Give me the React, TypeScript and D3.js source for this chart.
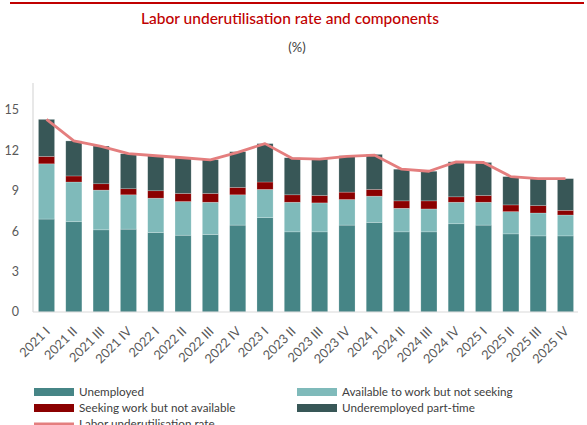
import React from "react";
import * as d3 from "d3";

const categories = ["2021 I","2021 II","2021 III","2021 IV","2022 I","2022 II","2022 III","2022 IV","2023 I","2023 II","2023 III","2023 IV","2024 I","2024 II","2024 III","2024 IV","2025 I","2025 II","2025 III","2025 IV"];
const unemployed = [6.9,6.7,6.1,6.15,5.9,5.7,5.75,6.45,7.0,5.95,5.95,6.45,6.65,5.95,5.95,6.55,6.45,5.8,5.65,5.65];
const availableNotSeeking = [4.1,2.95,2.95,2.55,2.55,2.5,2.4,2.25,2.1,2.2,2.15,1.9,1.95,1.75,1.7,1.6,1.7,1.65,1.7,1.55];
const seekingNotAvailable = [0.55,0.45,0.47,0.45,0.55,0.6,0.65,0.55,0.55,0.55,0.55,0.55,0.5,0.55,0.6,0.4,0.5,0.5,0.55,0.35];
const underemployed = [2.75,2.6,2.8,2.6,2.6,2.7,2.5,2.65,2.85,2.75,2.7,2.7,2.6,2.35,2.2,2.6,2.45,2.1,2.0,2.35];
const underutilisationRate = [14.3,12.7,12.3,11.75,11.6,11.45,11.3,11.85,12.5,11.4,11.35,11.55,11.65,10.6,10.45,11.15,11.1,10.05,9.9,9.9];
const yTicks = [0,3,6,9,12,15];

const seriesKeys = ["unemployed","available","seeking","underemployed"];
const seriesLabels = ["Unemployed","Available to work but not seeking","Seeking work but not available","Underemployed part-time"];
const colors = ["#468586","#7FBABA","#8B0000","#385757"];
const lineColor = "#E47E7E";

export default function App() {
  const W = 587, H = 425;
  const left = 33, right = 579, top = 83, bottom = 312;
  const rows = categories.map((c, i) => ({
    cat: c,
    unemployed: unemployed[i],
    available: availableNotSeeking[i],
    seeking: seekingNotAvailable[i],
    underemployed: underemployed[i],
  }));
  const stack = d3.stack<any>().keys(seriesKeys)(rows);
  const x = d3.scaleBand().domain(categories).range([left, right]).paddingInner(0.41).paddingOuter(0.2);
  const y = d3.scaleLinear().domain([0, 17]).range([bottom, top]);
  const line = d3.line<number>()
    .x((_, i) => (x(categories[i]) as number) + x.bandwidth() / 2)
    .y(d => y(d));
  const font = "Lato, 'Open Sans', sans-serif";
  const legendItems = [
    { label: seriesLabels[0], color: colors[0], x: 34, y: 392, line: false },
    { label: seriesLabels[1], color: colors[1], x: 297, y: 392, line: false },
    { label: seriesLabels[2], color: colors[2], x: 34, y: 408, line: false },
    { label: seriesLabels[3], color: colors[3], x: 297, y: 408, line: false },
    { label: "Labor underutilisation rate", color: lineColor, x: 34, y: 424, line: true },
  ];
  return (
    <svg width={W} height={H} style={{ position: "absolute", left: 0, top: 0, background: "#fff" }} fontFamily={font}>
      <line x1={10} x2={584} y1={3} y2={3} stroke="#C00000" strokeWidth={2.2} />
      <text x={290} y={24} textAnchor="middle" fill="#C00000" fontSize={15.5} fontWeight={500}>Labor underutilisation rate and components</text>
      <text x={297} y={52} textAnchor="middle" fill="#404040" fontSize={13}>(%)</text>
      {yTicks.map(t => (
        <text key={t} x={19} y={y(t)} dy="0.35em" textAnchor="end" fill="#595959" fontSize={12.5}>{t}</text>
      ))}
      {stack.map((s, si) => (
        <g key={si} fill={colors[si]}>
          {s.map((d, i) => (
            <rect key={i} x={x(categories[i])} y={y(d[1])} width={x.bandwidth()} height={y(d[0]) - y(d[1])}
              stroke="#ffffff" strokeOpacity={0.35} strokeWidth={0.6} />
          ))}
        </g>
      ))}
      <line x1={left} x2={left} y1={top} y2={bottom} stroke="#D9D9D9" strokeWidth={1.2} />
      <line x1={left} x2={right - 1} y1={bottom} y2={bottom} stroke="#D9D9D9" strokeWidth={1.2} />
      <path d={line(underutilisationRate) as string} fill="none" stroke={lineColor} strokeWidth={2.8} strokeLinejoin="round" />
      {categories.map((c, i) => {
        const cx = (x(c) as number) + x.bandwidth() / 2 + 1;
        return (
          <text key={c} transform={`translate(${cx},${329}) rotate(-45)`} textAnchor="end" dy="0.35em" fill="#595959" fontSize={12.8}>{c}</text>
        );
      })}
      {legendItems.map((it, i) => (
        <g key={i}>
          {it.line
            ? <line x1={it.x} x2={it.x + 40} y1={it.y} y2={it.y} stroke={it.color} strokeWidth={3} />
            : <rect x={it.x} y={it.y - 4} width={40} height={8} fill={it.color} />}
          <text x={it.x + 45} y={it.y} dy="0.35em" fill="#404040" fontSize={11.7}>{it.label}</text>
        </g>
      ))}
    </svg>
  );
}
